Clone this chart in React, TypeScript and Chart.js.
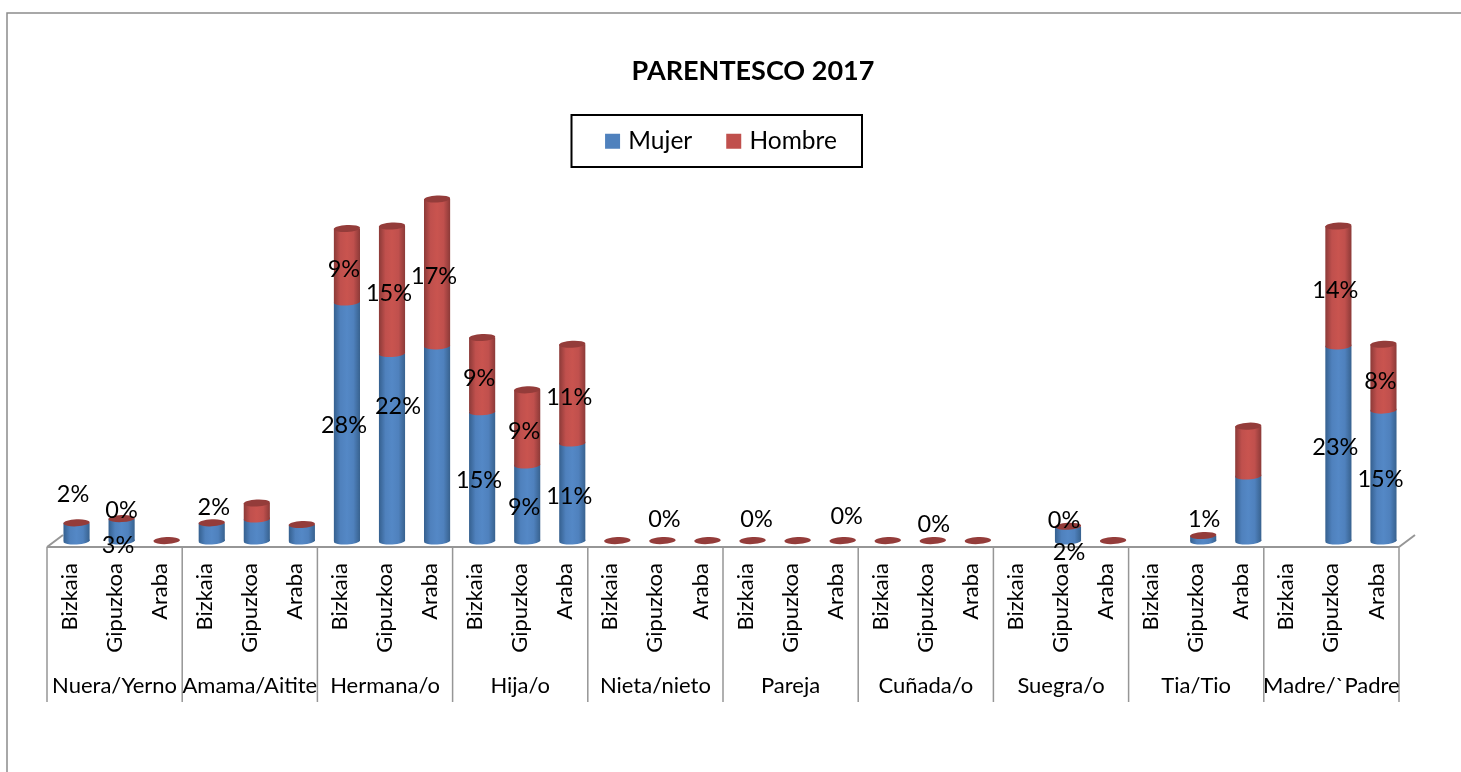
import React, { useEffect, useRef } from "react";
import { Chart, registerables } from "chart.js";

Chart.register(...registerables);

const groups = ["Nuera/Yerno", "Amama/Aitite", "Hermana/o", "Hija/o", "Nieta/nieto", "Pareja", "Cuñada/o", "Suegra/o", "Tia/Tio", "Madre/`Padre"];
const provinces = ["Bizkaia", "Gipuzkoa", "Araba"];
const categories = groups.flatMap(() => provinces);

const mujer = [
  2.1, 2.6, 0,
  2.1, 2.6, 1.9,
  28.3, 22.2, 23.1,
  15.3, 9.0, 11.6,
  0, 0, 0,
  0, 0, 0,
  0, 0, 0,
  null, 1.7, 0,
  null, 0.6, 7.7,
  null, 23.1, 15.5,
];
const hombre = [
  0.05, 0.05, 0.05,
  0.05, 1.9, 0.05,
  8.7, 15.1, 17.4,
  8.8, 8.9, 11.7,
  0.05, 0.05, 0.05,
  0.05, 0.05, 0.05,
  0.05, 0.05, 0.05,
  null, 0.05, 0.05,
  null, 0.05, 5.9,
  null, 14.2, 7.8,
];
const mujerLabels = [
  "2%", "3%", "",
  "2%", "", "",
  "28%", "22%", "",
  "15%", "9%", "11%",
  "", "", "",
  "", "", "",
  "", "", "",
  "", "2%", "",
  "", "1%", "",
  "", "23%", "15%",
];
const hombreLabels = [
  "", "0%", "",
  "", "", "",
  "9%", "15%", "17%",
  "9%", "9%", "11%",
  "", "0%", "",
  "0%", "", "0%",
  "", "0%", "",
  "", "0%", "",
  "", "", "",
  "", "14%", "8%",
];

const FONT = "Lato, Carlito, Calibri, sans-serif";
const defaultNudge: [number, number] = [-3, 4];
const nudges: Record<string, [number, number]> = {
  "0-0": [-3.5, -38],
  "0-1": [-3.5, 15],
  "1-1": [0, -8],
  "0-3": [2, -25],
  "0-7": [6, -41],
  "1-13": [2, -21],
  "1-15": [4, -21],
  "1-17": [4, -24],
  "1-19": [1, -16],
  "0-22": [1, 19],
  "1-22": [-4, -6],
  "0-25": [1, -19],
};

const palette = [
  { edgeL: "#35608f", mid: "#4f81bd", light: "#5488c6", edgeR: "#38628f" },
  { edgeL: "#8c3a38", mid: "#c0504d", light: "#c9544f", edgeR: "#8c3a38" },
];

function barFill(c: any, x: number, half: number, series: number) {
  const p = palette[series];
  const g = c.createLinearGradient(x - half, 0, x + half, 0);
  g.addColorStop(0, p.edgeL);
  g.addColorStop(0.25, p.mid);
  g.addColorStop(0.5, p.light);
  g.addColorStop(0.75, p.mid);
  g.addColorStop(1, p.edgeR);
  return g;
}

const AXIS = "#969696";

const decor = {
  id: "decor",
  afterLayout(chart: any) {
    chart.titleBlock.left += 23;
    chart.titleBlock.right += 23;
    chart.legend.left -= 7;
    chart.legend.right -= 7;
  },
  beforeDraw(chart: any) {
    const c = chart.ctx;
    c.save();
    c.fillStyle = "#fff";
    c.fillRect(0, 0, chart.width, chart.height);
    c.strokeStyle = "#8c8c8c";
    c.lineWidth = 1.5;
    c.beginPath();
    c.moveTo(7, chart.height);
    c.lineTo(7, 13);
    c.lineTo(chart.width, 13);
    c.stroke();

    // legend frame
    c.strokeStyle = "#000";
    c.lineWidth = 2;
    c.strokeRect(571.5, 115, 290.5, 52);

    // floor and category dividers
    const x2 = chart.scales.x2;
    const step = x2.getPixelForTick(1) - x2.getPixelForTick(0);
    const yAxis = chart.chartArea.bottom + 6;
    const shift = 7;
    c.strokeStyle = AXIS;
    c.lineWidth = 2;
    const first = x2.getPixelForTick(0) - step / 2 - shift;
    const last = first + step * groups.length;
    c.beginPath();
    c.moveTo(first, yAxis);
    c.lineTo(last, yAxis);
    c.moveTo(first, yAxis);
    c.lineTo(first + 16, yAxis - 12);
    c.moveTo(last, yAxis);
    c.lineTo(last + 16, yAxis - 12);
    c.stroke();
    c.lineWidth = 1.5;
    c.beginPath();
    for (let i = 0; i <= groups.length; i++) {
      const x = first + step * i;
      c.moveTo(x, yAxis);
      c.lineTo(x, x2.bottom);
    }
    c.stroke();
    c.restore();
  },
  afterDatasetsDraw(chart: any) {
    const c = chart.ctx;
    const m0 = chart.getDatasetMeta(0).data;
    const m1 = chart.getDatasetMeta(1).data;
    const ry = 3.5;
    const tilt = -0.05;
    c.save();
    categories.forEach((_, i) => {
      if (hombre[i] == null) return;
      const a = m0[i];
      const b = m1[i];
      const half = b.width / 2;
      if (mujer[i]) {
        c.fillStyle = barFill(c, a.x, half, 0);
        c.beginPath();
        c.ellipse(a.x, a.base, half, ry, tilt, 0, Math.PI * 2);
        c.fill();
      }
      if ((hombre[i] as number) > 0.5) {
        c.fillStyle = barFill(c, b.x, half, 1);
        c.beginPath();
        c.ellipse(b.x, b.base, half, ry, tilt, 0, Math.PI * 2);
        c.fill();
      }
      c.fillStyle = "#943c3a";
      c.beginPath();
      c.ellipse(b.x, b.y, half, ry, tilt, 0, Math.PI * 2);
      c.fill();
    });
    c.restore();
  },
  afterDraw(chart: any) {
    const c = chart.ctx;
    c.save();
    c.fillStyle = "#000";
    c.font = `23.5px ${FONT}`;
    c.textAlign = "center";
    c.textBaseline = "middle";
    [mujerLabels, hombreLabels].forEach((labels, s) => {
      const bars = chart.getDatasetMeta(s).data;
      labels.forEach((text, i) => {
        if (!text) return;
        const bar = bars[i];
        const [dx, dy] = nudges[`${s}-${i}`] || defaultNudge;
        c.fillText(text, bar.x + dx, (bar.y + bar.base) / 2 + dy);
      });
    });
    c.restore();
  },
};

export default function App() {
  const ref = useRef<HTMLCanvasElement>(null);
  useEffect(() => {
    const chart = new Chart(ref.current as HTMLCanvasElement, {
      type: "bar",
      data: {
        labels: categories,
        datasets: [
          {
            label: "Mujer",
            data: mujer,
            xAxisID: "x",
            backgroundColor: (ctx: any) => {
              if (ctx.dataIndex === undefined) return palette[0].mid;
              const x = ctx.chart.scales.x.getPixelForValue(ctx.dataIndex);
              return barFill(ctx.chart.ctx, x, 13, 0);
            },
          },
          {
            label: "Hombre",
            data: hombre,
            xAxisID: "x",
            backgroundColor: (ctx: any) => {
              if (ctx.dataIndex === undefined) return palette[1].mid;
              const x = ctx.chart.scales.x.getPixelForValue(ctx.dataIndex);
              return barFill(ctx.chart.ctx, x, 13, 1);
            },
          },
        ],
      },
      options: {
        responsive: false,
        animation: false,
        barPercentage: 0.58,
        categoryPercentage: 1,
        layout: { padding: { left: 54, right: 55, top: 55, bottom: 70 } },
        plugins: {
          tooltip: { enabled: false },
          title: {
            display: true,
            text: "PARENTESCO 2017",
            color: "#000",
            font: { family: FONT, size: 27, weight: "bold" },
            padding: { top: 0, bottom: 3.6 },
          },
          legend: {
            position: "top",
            align: "center",
            labels: {
              boxWidth: 7,
              boxHeight: 7,
              padding: 38,
              color: "#000",
              font: { family: FONT, size: 24.5 },
              generateLabels: () => [
                { text: "Mujer", fillStyle: palette[0].mid, strokeStyle: palette[0].mid, lineWidth: 8, datasetIndex: 0 },
                { text: "Hombre", fillStyle: palette[1].mid, strokeStyle: palette[1].mid, lineWidth: 8, datasetIndex: 1 },
              ],
            },
          },
        },
        scales: {
          x: {
            stacked: true,
            position: "bottom",
            weight: 0,
            grid: { display: false, drawTicks: false },
            border: { display: false },
            afterFit: (s: any) => { s.height = 120; },
            ticks: {
              autoSkip: false,
              minRotation: 90,
              maxRotation: 90,
              labelOffset: -7,
              padding: 22,
              color: "#000",
              font: { family: FONT, size: 22 },
            },
          },
          x2: {
            type: "category",
            labels: groups,
            position: "bottom",
            weight: 1,
            offset: true,
            grid: { display: false, drawTicks: false },
            border: { display: false },
            afterFit: (s: any) => { s.height = 41; },
            ticks: {
              autoSkip: false,
              maxRotation: 0,
              minRotation: 0,
              labelOffset: -7,
              padding: 12,
              color: "#000",
              font: { family: FONT, size: 22 },
            },
          },
          y: {
            stacked: true,
            display: false,
            min: 0,
            max: 44.7,
          },
        },
      } as any,
      plugins: [decor],
    });
    return () => chart.destroy();
  }, []);
  return (
    <div style={{ position: "absolute", left: 0, top: 0, width: 1461, height: 772 }}>
      <canvas ref={ref} width={1461} height={772} style={{ display: "block" }} />
    </div>
  );
}
